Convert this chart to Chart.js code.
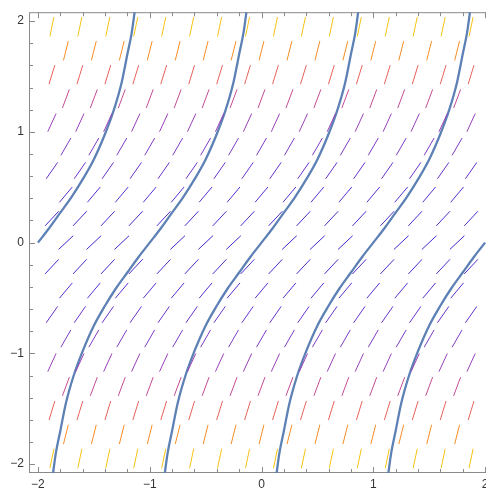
<!DOCTYPE html>
<html>
<head>
<meta charset="utf-8">
<script src="https://cdn.jsdelivr.net/npm/chart.js@4.4.1/dist/chart.umd.min.js"></script>
<style>
  html, body { margin: 0; padding: 0; background: #fff; overflow: hidden; }
  #wrap { width: 496px; height: 490px; }
</style>
</head>
<body>
<div id="wrap"><canvas id="myChartCanvas" width="496" height="490"></canvas></div>
<script>
// tick labels
var tickValues = [-2, -1, 0, 1, 2];

// slope field: row heights (hex grid), columns for even / odd rows
var rowY = [-1.949, -1.732, -1.516, -1.299, -1.083, -0.866, -0.650, -0.433, -0.217, 0,
            0.217, 0.433, 0.650, 0.866, 1.083, 1.299, 1.516, 1.732, 1.949];
var colsEven = [-1.75, -1.5, -1.25, -1, -0.75, -0.5, -0.25, 0, 0.25, 0.5, 0.75, 1, 1.25, 1.5, 1.75];
var colsOdd = [-1.875, -1.625, -1.375, -1.125, -0.875, -0.625, -0.375, -0.125,
               0.125, 0.375, 0.625, 0.875, 1.125, 1.375, 1.625, 1.875];
// slope and colour by distance from the middle row (0 .. 9)
var rowSlopes = [0.95, 1.08, 1.2, 1.45, 1.75, 2.2, 2.7, 3.3, 4.0, 4.8];
var rowColors = ['#3f28cc', '#4a2bcf', '#582fce', '#6834cc', '#7d3bc6', '#9a40b8',
                 '#c44c92', '#e8625a', '#f88c22', '#f8c214'];
// grid points left out where the curves start
var omitted = [[-2, 0], [-1, 0], [0, 0], [1, 0], [2, 0]];

// solution curves: shape (offset from start, height), start points
var curveDx = [0, 0.1, 0.2, 0.3, 0.4, 0.5, 0.6, 0.68, 0.75, 0.8, 0.84, 0.87];
var curveY = [0, 0.13, 0.27, 0.41, 0.57, 0.75, 0.98, 1.2, 1.45, 1.7, 1.9, 2.12];
var startX = [-2, -1, 0, 1, 2];
var curveDomain = [-2, 2];

var segLen = 0.18;

function is_omitted(x, y) {
    for (let i = 0; i < omitted.length; i++) {
        if (Math.abs(omitted[i][0] - x) < 1e-6 && Math.abs(omitted[i][1] - y) < 1e-6)
            return true;
    }
    return false;
}

let datasets = [];

for (let r = 0; r < rowY.length; r++) {
    let k = Math.abs(r - 9);
    let cols = (k % 2 == 0) ? colsEven : colsOdd;
    let s = rowSlopes[k];
    let hx = (segLen / 2) / Math.sqrt(1 + s * s);
    let pts = [];
    for (let c = 0; c < cols.length; c++) {
        let x = cols[c], y = rowY[r];
        if (is_omitted(x, y)) continue;
        pts.push({x: x - hx, y: y - s * hx});
        pts.push({x: x + hx, y: y + s * hx});
        pts.push({x: x + hx, y: null});
    }
    datasets.push({
        data: pts,
        showLine: true,
        spanGaps: false,
        borderColor: rowColors[k],
        borderWidth: 1,
        pointRadius: 0
    });
}

for (let n = 0; n < startX.length; n++) {
    let pts = [];
    for (let i = curveDx.length - 1; i > 0; i--)
        pts.push({x: startX[n] - curveDx[i], y: -curveY[i]});
    for (let i = 0; i < curveDx.length; i++)
        pts.push({x: startX[n] + curveDx[i], y: curveY[i]});
    pts = pts.filter(p => p.x >= curveDomain[0] - 1e-9 && p.x <= curveDomain[1] + 1e-9);
    datasets.push({
        data: pts,
        showLine: true,
        borderColor: '#5e81b5',
        borderWidth: 2.3,
        pointRadius: 0,
        cubicInterpolationMode: 'monotone'
    });
}

function fmt(v) {
    return v < 0 ? '\u2212' + Math.abs(v) : String(v);
}

const framePlugin = {
    id: 'frame',
    beforeDatasetsDraw(chart) {
        const ctx = chart.ctx;
        const a = chart.chartArea;
        const xs = chart.scales.x, ys = chart.scales.y;
        ctx.save();
        ctx.strokeStyle = '#8a8a8a';
        ctx.lineWidth = 1;
        ctx.strokeRect(a.left + 0.5, a.top + 0.5, a.right - a.left - 1, a.bottom - a.top - 1);
        ctx.beginPath();
        for (let i = -10; i <= 10; i++) {
            let v = i * 0.2;
            let len = (i % 5 == 0) ? 6 : 4;
            let px = Math.round(xs.getPixelForValue(v)) + 0.5;
            ctx.moveTo(px, a.bottom); ctx.lineTo(px, a.bottom - len);
            ctx.moveTo(px, a.top); ctx.lineTo(px, a.top + len);
            let py = Math.round(ys.getPixelForValue(v)) + 0.5;
            ctx.moveTo(a.left, py); ctx.lineTo(a.left + len, py);
            ctx.moveTo(a.right, py); ctx.lineTo(a.right - len, py);
        }
        ctx.stroke();
        ctx.restore();
    }
};

const axisCommon = {
    type: 'linear',
    min: -2.08,
    max: 2.08,
    grid: { display: false, drawTicks: false },
    border: { display: false },
    afterBuildTicks: function(axis) {
        axis.ticks = tickValues.map(v => ({value: v}));
    },
    ticks: {
        color: '#333',
        font: { family: 'Liberation Sans, Arial, sans-serif', size: 12 },
        autoSkip: false,
        maxRotation: 0,
        callback: function(value) { return fmt(value); }
    }
};

new Chart(document.getElementById('myChartCanvas'), {
    type: 'scatter',
    data: { datasets: datasets },
    options: {
        responsive: false,
        animation: false,
        devicePixelRatio: 1,
        layout: { padding: { top: 8, right: 2, left: 0, bottom: 0 } },
        plugins: { legend: { display: false }, tooltip: { enabled: false } },
        scales: {
            x: Object.assign({}, axisCommon, {
                position: 'bottom',
                afterFit: function(scale) { scale.height = 17; },
                ticks: Object.assign({}, axisCommon.ticks, { padding: 4 })
            }),
            y: Object.assign({}, axisCommon, {
                position: 'left',
                afterFit: function(scale) { scale.width = 29; },
                ticks: Object.assign({}, axisCommon.ticks, { padding: 5 })
            })
        }
    },
    plugins: [framePlugin]
});
</script>
</body>
</html>
